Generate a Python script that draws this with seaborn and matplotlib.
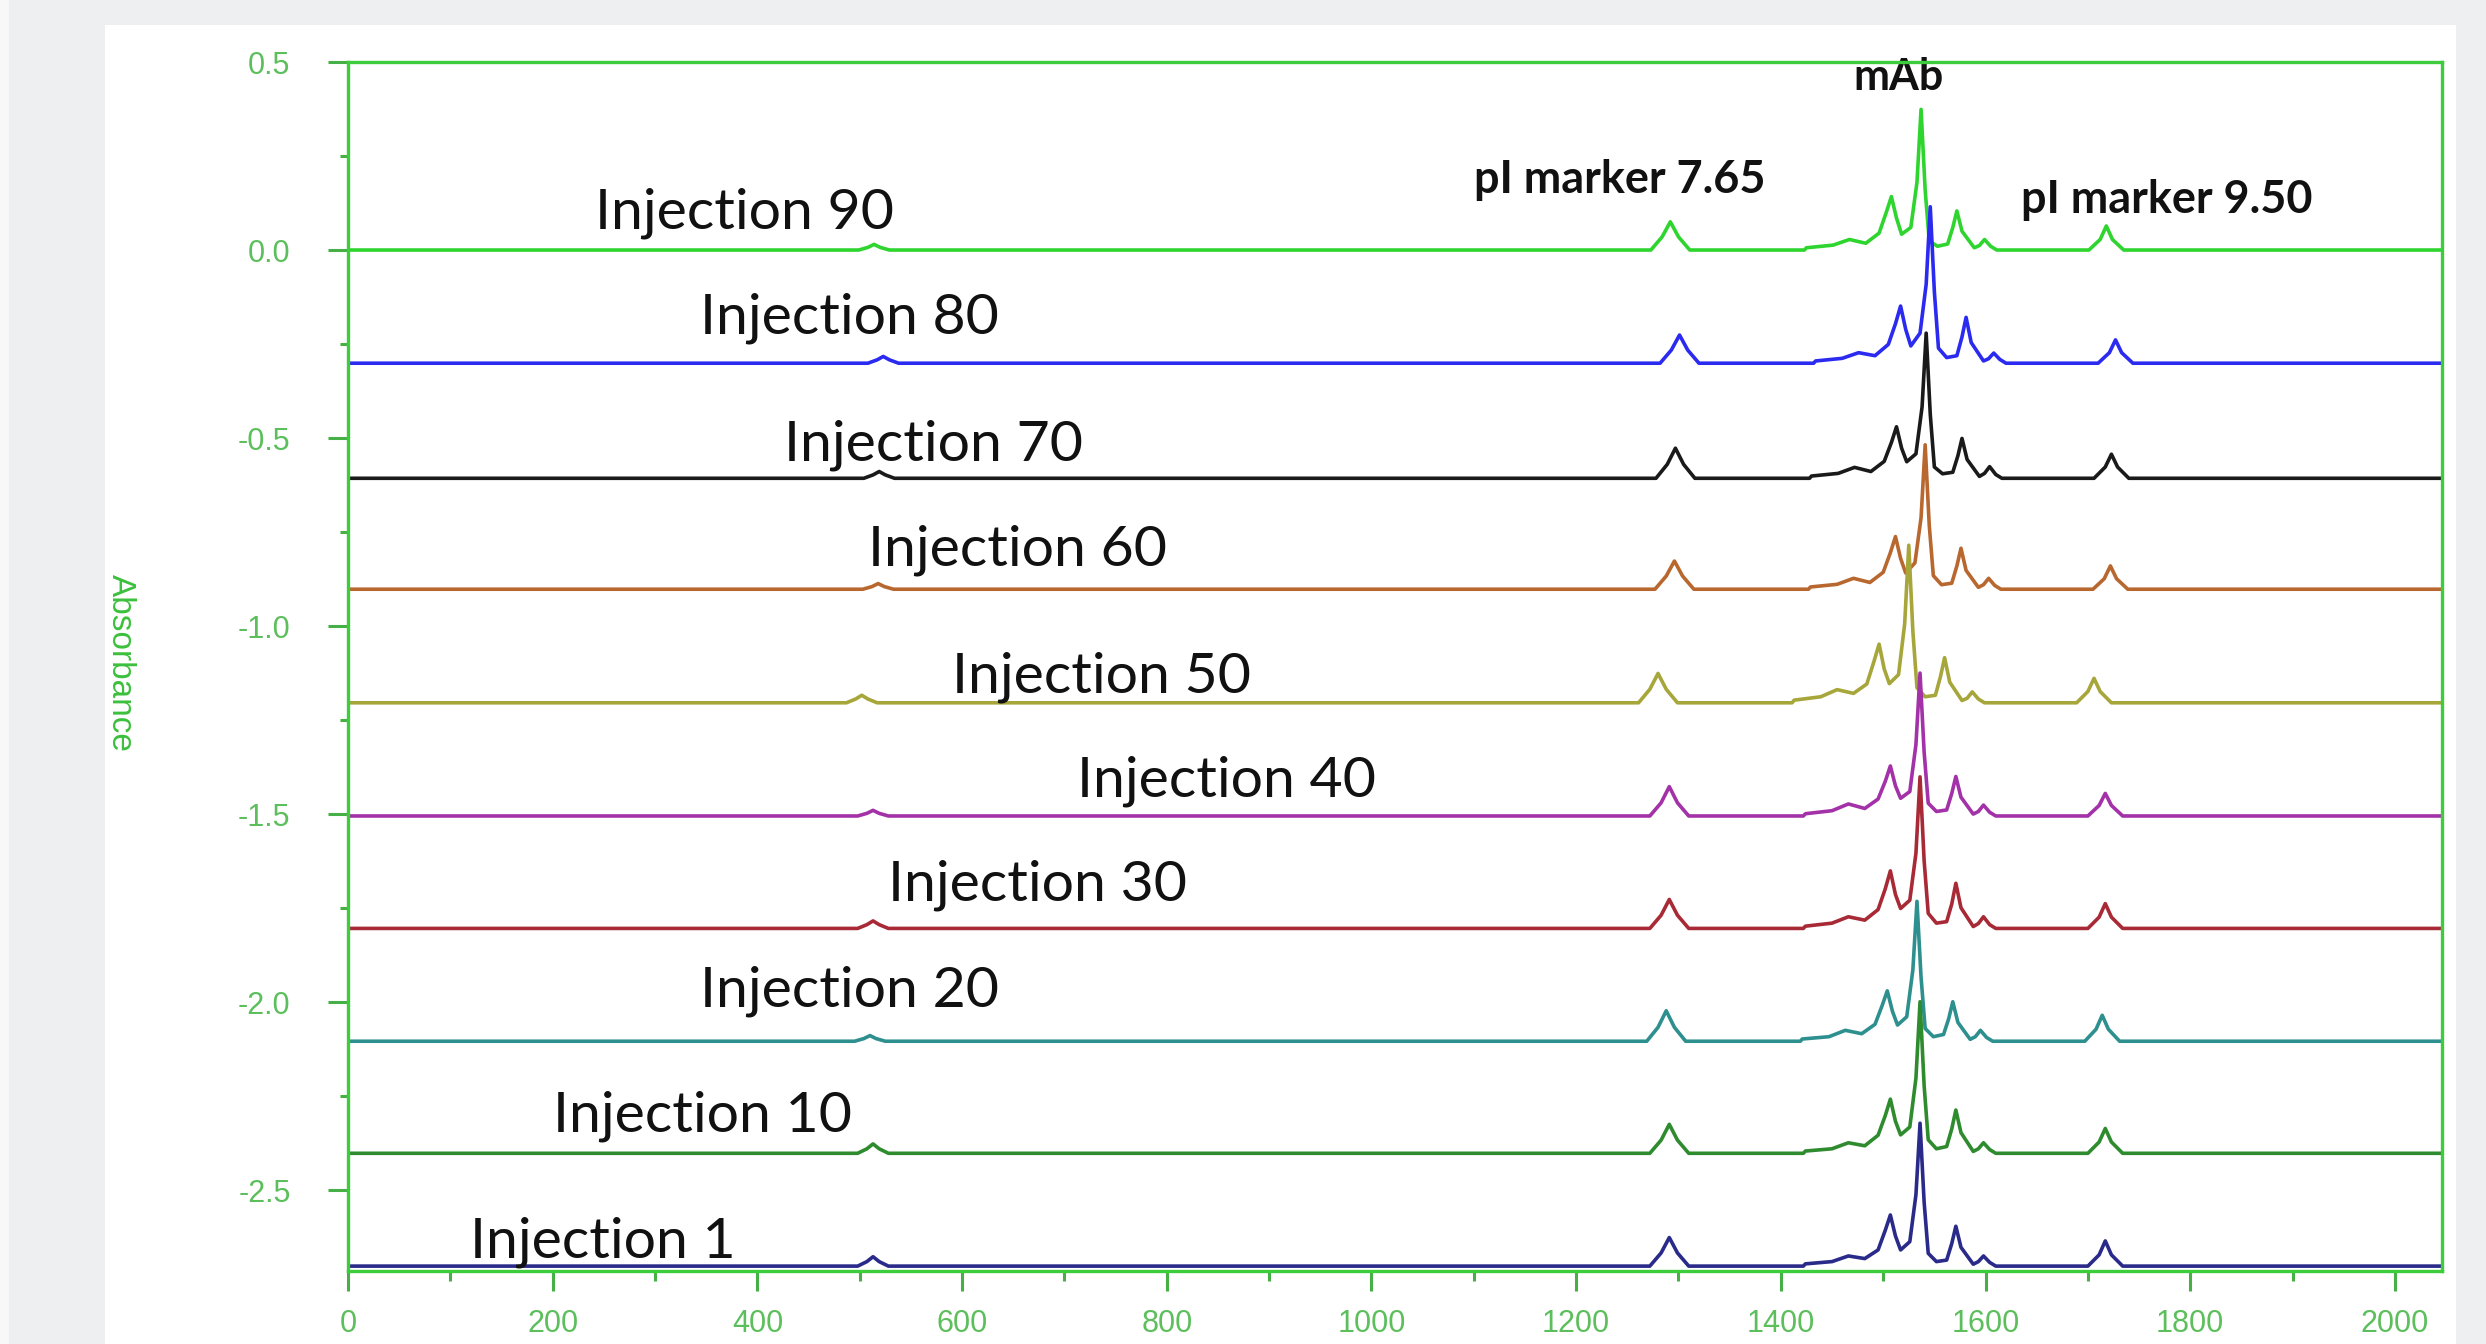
import numpy as np
import pandas as pd
import matplotlib
matplotlib.use("Agg")
import matplotlib.pyplot as plt
from matplotlib.patches import Rectangle
from matplotlib.ticker import MultipleLocator, FuncFormatter
import seaborn as sns

# ---------------- data ----------------
# x positions (time/scan) of the read points, referenced to Injection 1
x_points = [-20, 498, 507, 513, 519, 528, 1272, 1283, 1291, 1299, 1310, 1422, 1424,
            1450, 1466, 1482, 1495, 1502, 1507, 1512, 1517, 1526, 1532, 1536, 1540,
            1544, 1552, 1562, 1567, 1571, 1576, 1588, 1593, 1598, 1604, 1610, 1700,
            1711, 1717, 1723, 1734, 2070]

labels = ["Injection 90", "Injection 80", "Injection 70", "Injection 60", "Injection 50",
          "Injection 40", "Injection 30", "Injection 20", "Injection 10", "Injection 1"]
baselines = [0.0, -0.301, -0.607, -0.902, -1.204, -1.505, -1.804, -2.104, -2.402, -2.702]
x_shift = [1, 10, 6, 5, -11, 0, 0, -3, 0, 0]
colors = ["#2fd52f", "#2a2af0", "#1a1a1a", "#b8672e", "#a6a63a",
          "#a331a8", "#a82a36", "#2e8f8f", "#2e8b2e", "#2a2a8a"]

inj90 = [0, 0, 0.007, 0.015, 0.007, 0, 0, 0.035, 0.075, 0.035, 0, 0, 0.006, 0.013, 0.028, 0.018,
         0.045, 0.10, 0.142, 0.085, 0.042, 0.06, 0.18, 0.374, 0.16, 0.024, 0.01, 0.016, 0.06,
         0.104, 0.05, 0.006, 0.012, 0.028, 0.01, 0, 0, 0.028, 0.064, 0.028, 0, 0]
inj80 = [0, 0, 0.009, 0.018, 0.009, 0, 0, 0.035, 0.075, 0.035, 0, 0, 0.006, 0.013, 0.028, 0.02,
         0.05, 0.105, 0.152, 0.09, 0.046, 0.08, 0.21, 0.416, 0.19, 0.04, 0.015, 0.02, 0.07,
         0.122, 0.055, 0.006, 0.012, 0.027, 0.01, 0, 0, 0.028, 0.062, 0.028, 0, 0]
inj70 = [0, 0, 0.009, 0.018, 0.009, 0, 0, 0.037, 0.08, 0.037, 0, 0, 0.006, 0.013, 0.029, 0.018,
         0.045, 0.095, 0.137, 0.08, 0.044, 0.065, 0.19, 0.386, 0.17, 0.03, 0.012, 0.016, 0.06,
         0.106, 0.05, 0.005, 0.013, 0.031, 0.01, 0, 0, 0.03, 0.064, 0.03, 0, 0]
inj60 = [0, 0, 0.007, 0.015, 0.007, 0, 0, 0.035, 0.075, 0.035, 0, 0, 0.006, 0.013, 0.029, 0.018,
         0.045, 0.097, 0.14, 0.082, 0.043, 0.07, 0.19, 0.384, 0.17, 0.036, 0.012, 0.016, 0.062,
         0.109, 0.05, 0.005, 0.012, 0.029, 0.01, 0, 0, 0.028, 0.062, 0.028, 0, 0]
inj50 = [0, 0, 0.01, 0.02, 0.01, 0, 0, 0.036, 0.078, 0.036, 0, 0, 0.007, 0.016, 0.035, 0.025,
         0.05, 0.11, 0.156, 0.09, 0.051, 0.075, 0.21, 0.419, 0.19, 0.04, 0.016, 0.02, 0.07,
         0.12, 0.055, 0.006, 0.012, 0.029, 0.01, 0, 0, 0.03, 0.065, 0.03, 0, 0]
inj40 = [0, 0, 0.007, 0.015, 0.007, 0, 0, 0.035, 0.078, 0.035, 0, 0, 0.006, 0.014, 0.032, 0.02,
         0.045, 0.092, 0.133, 0.08, 0.047, 0.065, 0.19, 0.38, 0.17, 0.034, 0.012, 0.016, 0.06,
         0.105, 0.05, 0.005, 0.012, 0.029, 0.01, 0, 0, 0.028, 0.06, 0.028, 0, 0]
inj30 = [0, 0, 0.01, 0.02, 0.01, 0, 0, 0.035, 0.077, 0.035, 0, 0, 0.006, 0.014, 0.031, 0.022,
         0.05, 0.105, 0.153, 0.09, 0.053, 0.075, 0.2, 0.403, 0.18, 0.04, 0.014, 0.018, 0.065,
         0.12, 0.055, 0.005, 0.013, 0.031, 0.01, 0, 0, 0.03, 0.066, 0.03, 0, 0]
inj20 = [0, 0, 0.007, 0.015, 0.007, 0, 0, 0.037, 0.081, 0.037, 0, 0, 0.006, 0.012, 0.029, 0.02,
         0.045, 0.095, 0.134, 0.08, 0.043, 0.065, 0.19, 0.372, 0.17, 0.034, 0.012, 0.018, 0.06,
         0.105, 0.05, 0.005, 0.012, 0.029, 0.01, 0, 0, 0.032, 0.069, 0.032, 0, 0]
inj10 = [0, 0, 0.012, 0.025, 0.012, 0, 0, 0.035, 0.077, 0.035, 0, 0, 0.006, 0.012, 0.028, 0.02,
         0.048, 0.10, 0.144, 0.085, 0.049, 0.07, 0.2, 0.403, 0.18, 0.036, 0.012, 0.018, 0.065,
         0.115, 0.055, 0.005, 0.012, 0.028, 0.01, 0, 0, 0.03, 0.066, 0.03, 0, 0]
inj1 = [0, 0, 0.012, 0.025, 0.012, 0, 0, 0.035, 0.076, 0.035, 0, 0, 0.006, 0.012, 0.027, 0.02,
        0.043, 0.095, 0.136, 0.08, 0.043, 0.065, 0.19, 0.38, 0.17, 0.034, 0.012, 0.016, 0.06,
        0.106, 0.05, 0.005, 0.012, 0.027, 0.01, 0, 0, 0.03, 0.067, 0.03, 0, 0]
heights = [inj90, inj80, inj70, inj60, inj50, inj40, inj30, inj20, inj10, inj1]

# label positions (left x, baseline y)
label_x = [241, 344, 426, 508, 590, 712, 528, 344, 200, 119]
label_y = [0.056, -0.221, -0.559, -0.838, -1.176, -1.452, -1.731, -2.011, -2.343, -2.678]

annot_text = ["mAb", "pI marker 7.65", "pI marker 9.50"]
annot_x = [1515, 1243, 1635]
annot_y = [0.425, 0.152, 0.098]
annot_size = [15.5, 16.2, 16.2]
annot_ha = ["center", "center", "left"]

# ---------------- style ----------------
sns.set_theme(style="white")
plt.rcParams["font.family"] = ["Liberation Sans", "DejaVu Sans"]
plt.rcParams["axes.unicode_minus"] = False

W, H, DPI = 2486, 1344, 200
fig = plt.figure(figsize=(W / DPI, H / DPI), dpi=DPI)
fig.patch.set_facecolor("#eeeff1")
fig.add_artist(Rectangle((105 / W, 0), (2456 - 105) / W, (1344 - 25) / H,
                         transform=fig.transFigure, facecolor="white",
                         edgecolor="none", zorder=-10))
fig.add_artist(Rectangle((0, 0), 9 / W, 1, transform=fig.transFigure,
                         facecolor="#f8f8f8", edgecolor="none", zorder=-10))

ax = fig.add_axes([348 / W, 1 - 1271 / H, (2442 - 348) / W, (1271 - 62) / H])
ax.set_facecolor("white")

spine_c = "#3ccc3c"
tick_c = "#46b046"
label_c = "#5cbf5c"

frames = []
for lab, base, sh, h in zip(labels, baselines, x_shift, heights):
    frames.append(pd.DataFrame({
        "x": np.array(x_points, dtype=float) + sh,
        "y": base + np.array(h, dtype=float),
        "trace": lab,
    }))
df = pd.concat(frames, ignore_index=True)

for lab, col in zip(labels, colors):
    sub = df[df["trace"] == lab]
    sns.lineplot(data=sub, x="x", y="y", color=col, estimator=None, sort=False,
                 linewidth=1.3, ax=ax, legend=False)

ax.set_xlim(0, 2046)
ax.set_ylim(-2.715, 0.5)
ax.set_xlabel("")
ax.set_ylabel("")

for sp in ax.spines.values():
    sp.set_color(spine_c)
    sp.set_linewidth(1.2)
    sp.set_visible(True)
    sp.set_zorder(6)

ax.xaxis.set_major_locator(MultipleLocator(200))
ax.xaxis.set_minor_locator(MultipleLocator(100))
ax.yaxis.set_major_locator(MultipleLocator(0.5))
ax.yaxis.set_minor_locator(MultipleLocator(0.25))
ax.xaxis.set_major_formatter(FuncFormatter(lambda v, p: f"{v:.0f}"))
ax.yaxis.set_major_formatter(FuncFormatter(lambda v, p: f"{v:.1f}".replace("\u2212", "-")))

ax.tick_params(axis="both", which="both", direction="out", color=tick_c,
               labelcolor=label_c, labelsize=11, top=False, right=False,
               bottom=True, left=True)
ax.tick_params(axis="x", which="major", length=7.2, width=1.1, pad=6.5)
ax.tick_params(axis="x", which="minor", length=3.6, width=1.1)
ax.tick_params(axis="y", which="major", length=7.2, width=1.1, pad=13.5)
ax.tick_params(axis="y", which="minor", length=2.9, width=1.1)

for t, x, y in zip(labels, label_x, label_y):
    ax.text(x, y, t, fontsize=20.6, family=["Lato", "DejaVu Sans"], color="#111111",
            ha="left", va="baseline", zorder=5)

for t, x, y, s, ha in zip(annot_text, annot_x, annot_y, annot_size, annot_ha):
    ax.text(x, y, t, fontsize=s, family=["Lato", "DejaVu Sans"], fontweight="bold",
            color="#111111", ha=ha, va="baseline", zorder=5)

fig.text(120 / W, 1 - 663 / H, "Absorbance", rotation=270, ha="center", va="center",
         fontsize=12, color="#3cc03c")

fig.savefig("out.png", dpi=DPI, facecolor=fig.get_facecolor())
